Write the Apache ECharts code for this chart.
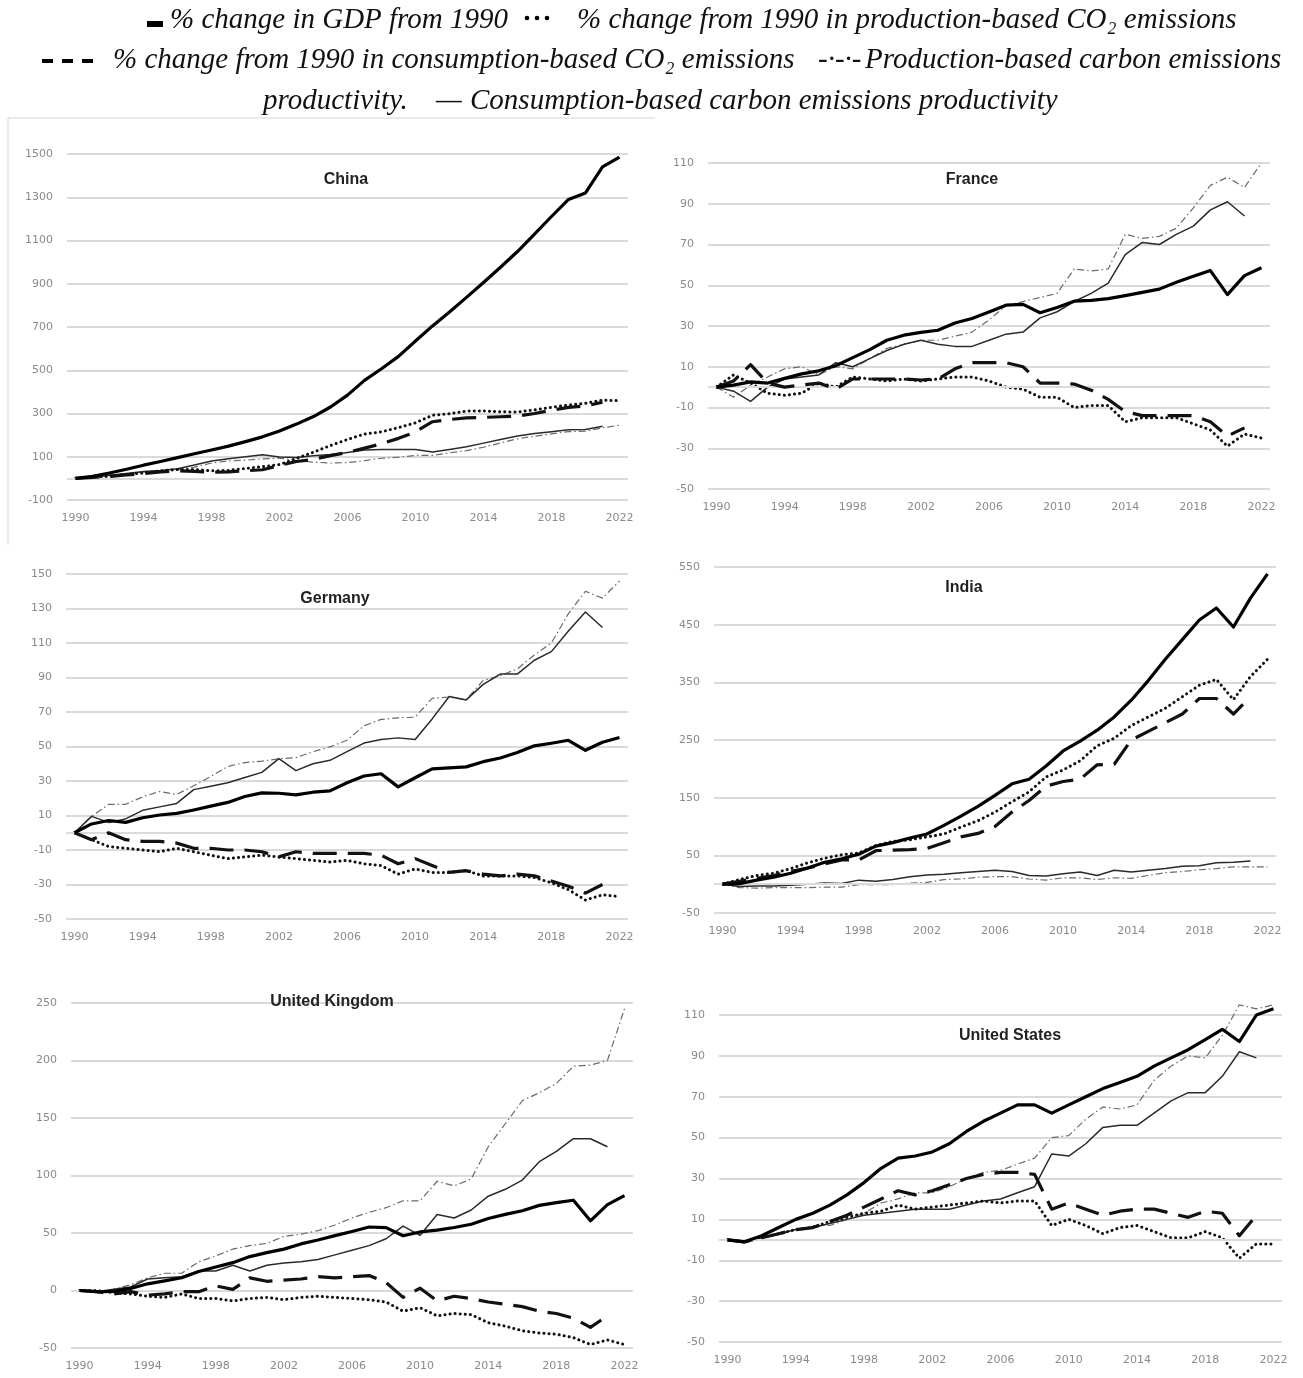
<!DOCTYPE html>
<html>
<head>
<meta charset="utf-8">
<script src="https://cdn.jsdelivr.net/npm/echarts@6/dist/echarts.min.js"></script>
<style>
  html, body { margin: 0; padding: 0; background: #ffffff; }
  #chart { width: 1303px; height: 1378px; }
</style>
</head>
<body>
<div id="chart"></div>
<script>
// Years on the category axis (1990-2022)
const years = ['1990','1991','1992','1993','1994','1995','1996','1997','1998','1999',
  '2000','2001','2002','2003','2004','2005','2006','2007','2008','2009',
  '2010','2011','2012','2013','2014','2015','2016','2017','2018','2019',
  '2020','2021','2022'];

// China (% change from 1990)
const gdp_CN      = [0,9,25,42,61,78,96,114,131,149,170,192,219,251,286,330,385,453,507,564,635,705,769,837,906,976,1049,1129,1211,1290,1320,1440,1486];
const prodCO2_CN  = [0,5,10,18,25,35,41,41,35,37,46,54,64,92,121,152,180,205,215,235,257,292,299,311,312,308,307,317,329,339,347,362,359];
const consCO2_CN  = [0,5,9,16,22,30,35,32,28,30,35,40,60,78,88,105,120,140,160,185,215,262,272,280,282,285,288,300,315,328,335,352,null];
const prodProd_CN = [0,4,14,21,29,32,39,52,71,81,84,90,94,82,75,71,73,82,93,98,106,106,118,128,144,164,183,195,206,216,218,234,246];
const consProd_CN = [0,4,14,23,32,37,45,62,80,91,100,109,99,97,105,110,120,131,133,133,133,122,134,146,163,180,196,207,216,225,226,241,null];

// France
const gdp_FR      = [0,1,2.6,2,4.3,6.5,8,10.5,14.5,18.4,23,25.5,26.9,27.9,31.5,33.7,36.9,40.2,40.6,36.5,39.1,42.2,42.6,43.4,44.9,46.5,48.1,51.5,54.4,57.2,45.4,54.7,58.6];
const prodCO2_FR  = [0,6,2,-3,-4,-3,2,0,5,4,3,4,3,4,5,5,3,0,-1,-5,-5,-10,-9,-9,-17,-15,-15,-15,-18,-21,-29,-23,-25];
const consCO2_FR  = [0,3,11,2,0,1,2,-1,4,4,4,4,3.5,4,9,12,12,12,10,2,2,1.5,-1.5,-6,-12,-14,-14,-14,-14,-17,-24,-20,null];
const prodProd_FR = [0,-5,1,5,9,10,6,10,9,14,19,21,23,23,25,27,33,40,42,44,46,58,57,58,75,73,74,78,88,99,103,98,110];
const consProd_FR = [0,-2,-7,0,4,5,6,12,10,14,18,21,23,21,20,20,23,26,27,34,37,42,46,51,65,71,70,75,79,87,91,84,null];

// Germany
const gdp_DE      = [0,5.1,7.1,6,8.7,10.3,11.2,13.2,15.4,17.6,21,23.1,22.9,22,23.5,24.3,29,32.9,34.2,26.6,31.9,37,37.6,38.2,41.2,43.3,46.5,50.4,51.9,53.6,47.8,52.5,55.2];
const prodCO2_DE  = [0,-4,-8,-9,-10,-11,-9,-11,-13,-15,-14,-13,-14,-15,-16,-17,-16,-18,-19,-24,-21,-23,-23,-22,-25,-25,-25,-26,-29,-33,-39,-36,-37];
const consCO2_DE  = [0,-4,0,-4,-5,-5,-6,-9,-9,-10,-10,-11,-14,-11,-12,-12,-12,-12,-13,-18,-15,-19,-23,-22,-24,-25,-24,-25,-28,-31,-35,-30,null];
const prodProd_DE = [0,9.5,16.4,16.5,20.8,23.9,22.2,27.2,32.6,38.4,40.7,41.5,42.9,43.5,47,49.8,53.6,62,65.7,66.6,67,77.9,78.7,77.2,88.3,91,95,103,110,127,140,136,146];
const consProd_DE = [0,9.5,6,8,13,15,17,25,27,29,32,35,43,36,40,42,47,52,54,55,54,66,79,77,86,92,92,100,105,117,128,119,null];

// India
const gdp_IN      = [0,1,7,12,19,28,38,44,52,66,72,80,87,102,118,135,154,174,182,205,231,248,267,290,319,353,390,424,458,479,446,496,538];
const prodCO2_IN  = [0,8,15,19,27,37,45,51,54,67,74,77,82,87,99,110,125,143,160,186,198,214,240,253,275,290,305,325,345,355,320,360,390];
const consCO2_IN  = [0,5,10,15,22,28,35,42,42,58,59,60,62,72,82,88,100,125,145,170,178,182,207,208,250,265,280,295,322,322,295,325,null];
const prodProd_IN = [0,-6,-7,-6,-6,-6,-5,-5,-1,-1,-1,2,3,8,9,12,13,13,9,7,11,11,8,11,10,15,20,22,25,27,30,30,30];
const consProd_IN = [0,-4,-3,-3,-2,0,2,1,7,5,8,13,16,17,20,22,24,22,15,14,18,21,15,24,21,24,27,31,32,37,38,40,null];

// United Kingdom
const gdp_UK      = [0,-1.1,-0.7,1.8,5.8,8.4,11.1,16.5,20.5,24.2,29.5,32.9,36,40.5,43.9,47.7,51.3,55.2,54.7,47.6,50.9,52.5,54.8,57.6,62.6,66.2,69.4,74,76.4,78.5,60.6,74.6,82.5];
const prodCO2_UK  = [0,0,-2,-3,-5,-6,-3,-7,-7,-9,-7,-6,-8,-6,-5,-6,-7,-8,-10,-18,-15,-22,-20,-21,-28,-31,-35,-37,-38,-41,-47,-43,-47];
const consCO2_UK  = [0,-1,-3,-1,-4,-3,-1,-1,4,1,11,8,9,10,12,11,12,13,7,-6,2,-9,-5,-7,-10,-12,-14,-18,-20,-24,-32,-22,null];
const prodProd_UK = [0,-1,1,5,11,15,15,25,30,36,39,41,47,49,52,57,63,68,72,78,78,95,91,97,125,145,165,172,180,195,196,200,245];
const consProd_UK = [0,-1,1,3,10,11,12,17,17,22,17,22,24,25,27,31,35,39,45,56,48,66,63,70,82,88,96,112,121,132,132,125,null];

// United States
const gdp_US      = [0,-1,2,6,10,13,17,22,28,35,40,41,43,47,53,58,62,66,66,62,66,70,74,77,80,85,89,93,98,103,97,110,113];
const prodCO2_US  = [0,-1,1,3,5,6,9,11,13,14,17,15,16,17,18,19,18,19,19,7,10,7,3,6,7,4,1,1,4,1,-9,-2,-2];
const consCO2_US  = [0,-1,1,3,5,6,9,12,16,20,24,22,24,27,30,32,33,33,32,15,18,15,12,14,15,15,13,11,14,13,2,12,null];
const prodProd_US = [0,0,1,3,5,7,7,10,13,18,20,23,23,26,30,33,34,37,40,50,51,59,65,64,66,78,85,90,89,100,115,113,115];
const consProd_US = [0,-1,1,3,5,6,8,10,12,13,14,15,15,15,17,19,20,23,26,42,41,47,55,56,56,62,68,72,72,80,92,89,null];

// Panel titles and value-axis ticks
const countries = ['China','France','Germany','India','United Kingdom','United States'];
const yMin      = [-100, -50, -50, -50, -50, -50];
const yMax      = [1500, 110, 150, 550, 250, 110];
const yStep     = [200, 20, 20, 100, 50, 20];

const panelData = [
  [gdp_CN, prodCO2_CN, consCO2_CN, prodProd_CN, consProd_CN],
  [gdp_FR, prodCO2_FR, consCO2_FR, prodProd_FR, consProd_FR],
  [gdp_DE, prodCO2_DE, consCO2_DE, prodProd_DE, consProd_DE],
  [gdp_IN, prodCO2_IN, consCO2_IN, prodProd_IN, consProd_IN],
  [gdp_UK, prodCO2_UK, consCO2_UK, prodProd_UK, consProd_UK],
  [gdp_US, prodCO2_US, consCO2_US, prodProd_US, consProd_US]
];

// Plot areas of the six panels (px)
const grids = [
  { left: 67,  top: 154,  width: 561, height: 346 },
  { left: 708, top: 163,  width: 562, height: 326 },
  { left: 66,  top: 574,  width: 562, height: 345 },
  { left: 714, top: 567,  width: 562, height: 346 },
  { left: 71,  top: 1003, width: 562, height: 345 },
  { left: 719, top: 1015, width: 563, height: 327 }
];
const titlePos = [[346,180],[972,180],[335,599],[964,588],[332,1002],[1010,1036]];

const seriesNames = [
  '% change in GDP from 1990',
  '% change from 1990 in production-based CO2 emissions',
  '% change from 1990 in consumption-based CO2 emissions',
  'Production-based carbon emissions productivity',
  'Consumption-based carbon emissions productivity'
];
const seriesStyle = [
  { color: '#000000', width: 3.2, type: 'solid', z: 6 },
  { color: '#111111', width: 3,   type: [0.1, 5], cap: 'round', z: 4 },
  { color: '#111111', width: 3.2, type: [24, 11], z: 5 },
  { color: '#6a6a6a', width: 1.2, type: [7, 3, 1.5, 3], z: 2 },
  { color: '#2a2a2a', width: 1.5, type: 'solid', z: 3 }
];

const labelFont = { color: '#8a8a8a', fontSize: 11, fontFamily: 'DejaVu Sans' };
const gridLine = { color: '#dadada', width: 2 };

const option = {
  animation: false,
  backgroundColor: '#ffffff',
  grid: grids.map(g => Object.assign({ containLabel: false }, g)),
  xAxis: grids.map((g, i) => ({
    type: 'category', gridIndex: i, data: years, boundaryGap: true,
    axisLine: { show: false }, axisTick: { show: false }, splitLine: { show: false },
    axisLabel: Object.assign({ interval: 3, margin: 13 }, labelFont)
  })),
  yAxis: grids.map((g, i) => ({
    type: 'value', gridIndex: i, min: yMin[i], max: yMax[i], interval: yStep[i],
    axisLine: { show: false }, axisTick: { show: false },
    splitLine: { show: true, lineStyle: gridLine },
    axisLabel: Object.assign({ margin: 14, formatter: v => String(v) }, labelFont)
  })),
  series: [],
  graphic: []
};

panelData.forEach((sets, p) => {
  sets.forEach((vals, k) => {
    const st = seriesStyle[k];
    const s = {
      name: seriesNames[k], type: 'line', xAxisIndex: p, yAxisIndex: p,
      data: vals, symbol: 'none', z: st.z, connectNulls: false, clip: false,
      lineStyle: { color: st.color, width: st.width, type: st.type, cap: st.cap || 'butt', join: 'round' }
    };
    if (k === 3) {
      // horizontal axis crossing at zero
      s.markLine = {
        silent: true, symbol: 'none', animation: false,
        label: { show: false },
        lineStyle: { color: '#dadada', width: 2, type: 'solid' },
        data: [{ yAxis: 0 }]
      };
    }
    option.series.push(s);
  });
});

// Panel titles
countries.forEach((c, i) => {
  option.graphic.push({
    type: 'text', x: titlePos[i][0], y: titlePos[i][1], silent: true, z: 10,
    style: { text: c, fill: '#222222', font: 'bold 16px "Liberation Sans", Arial, sans-serif',
             align: 'center', verticalAlign: 'middle' }
  });
});

// Legend built from text and small marks
const legendFont = 'italic 29px "Liberation Serif", "DejaVu Serif", serif';
const legendText = (x, y, s) => ({
  type: 'text', x: x, y: y, silent: true, z: 10,
  style: { text: s, fill: '#111111', font: legendFont, align: 'left', verticalAlign: 'middle' }
});
option.graphic.push(
  { type: 'rect', silent: true, shape: { x: 147, y: 21, width: 16, height: 6 }, style: { fill: '#000' } },
  legendText(170, 20, '% change in GDP from 1990'),
  { type: 'circle', silent: true, shape: { cx: 527, cy: 18, r: 2.3 }, style: { fill: '#000' } },
  { type: 'circle', silent: true, shape: { cx: 537, cy: 18, r: 2.3 }, style: { fill: '#000' } },
  { type: 'circle', silent: true, shape: { cx: 547, cy: 18, r: 2.3 }, style: { fill: '#000' } },
  legendText(577, 20, '% change from 1990 in production-based CO\u2082 emissions'),
  { type: 'line', silent: true, shape: { x1: 42, y1: 61, x2: 95, y2: 61 },
    style: { stroke: '#000', lineWidth: 4, lineDash: [11, 9] } },
  legendText(113, 60, '% change from 1990 in consumption-based CO\u2082 emissions'),
  legendText(818, 60, '-\u00b7-\u00b7-'),
  legendText(865, 60, 'Production-based carbon emissions'),
  legendText(263, 101, 'productivity.'),
  legendText(436, 101, '\u2014'),
  legendText(470, 101, 'Consumption-based carbon emissions productivity'),
  // light frame around the first panel
  { type: 'line', silent: true, shape: { x1: 8, y1: 118, x2: 655, y2: 118 }, style: { stroke: '#d4d4d4', lineWidth: 1 } },
  { type: 'line', silent: true, shape: { x1: 8, y1: 118, x2: 8, y2: 545 }, style: { stroke: '#d4d4d4', lineWidth: 1 } }
);

const chart = echarts.init(document.getElementById('chart'), null, { renderer: 'canvas' });
chart.setOption(option);
</script>
</body>
</html>
